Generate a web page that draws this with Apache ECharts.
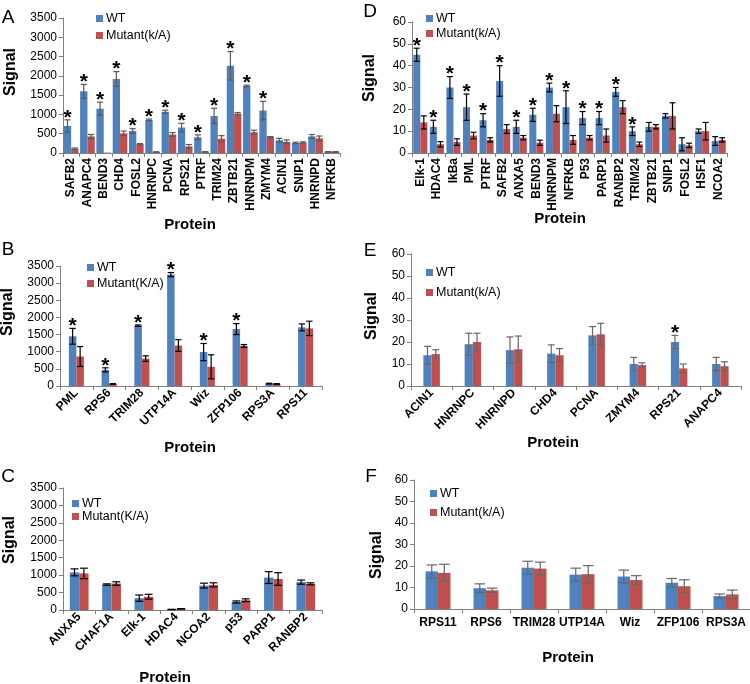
<!DOCTYPE html>
<html>
<head>
<meta charset="utf-8">
<script src="https://cdn.jsdelivr.net/npm/echarts@6/dist/echarts.min.js"></script>
<style>
  html, body { margin: 0; padding: 0; background: #fff; }
  #main { width: 750px; height: 684px; }
</style>
</head>
<body>
<div id="main"></div>
<script>
// ---- panel A ----
var catsA = ["SAFB2", "ANAPC4", "BEND3", "CHD4", "FOSL2", "HNRNPC", "PCNA", "RPS21", "PTRF", "TRIM24", "ZBTB21", "HNRNPM", "ZMYM4", "ACIN1", "SNIP1", "HNRNPD", "NFRKB"];
var wtA = [700, 1600, 1150, 1920, 570, 860, 1070, 660, 410, 960, 2260, 1740, 1100, 330, 260, 430, 30];
var wtErrA = [160, 180, 170, 190, 60, 20, 40, 110, 60, 200, 370, 20, 240, 50, 20, 50, 5];
var mutA = [110, 430, 10, 510, 230, 25, 480, 170, 30, 370, 1020, 540, 410, 290, 270, 380, 30];
var mutErrA = [20, 50, 0, 60, 15, 5, 50, 50, 5, 80, 30, 50, 15, 50, 20, 60, 5];
var starA = [1, 1, 1, 1, 1, 1, 1, 1, 1, 1, 1, 1, 1, 0, 0, 0, 0];

// ---- panel D ----
var catsD = ["Elk-1", "HDAC4", "IkBa", "PML", "PTRF", "SAFB2", "ANXA5", "BEND3", "HNRNPM", "NFRKB", "P53", "PARP1", "RANBP2", "TRIM24", "ZBTB21", "SNIP1", "FOSL2", "HSF1", "NCOA2"];
var wtD = [45, 12, 30, 21, 15, 33, 12, 17.5, 30, 21, 16, 16, 28, 10, 12, 17, 4, 10, 5.5];
var wtErrD = [3, 3, 5, 6, 3, 7, 3, 3, 2, 7.5, 3, 3, 2, 2, 2, 1, 3, 1, 2];
var mutD = [14, 4, 5, 8, 6, 11, 7, 4.7, 18, 6, 7, 8, 21, 4, 12, 17, 3.5, 10, 6];
var mutErrD = [3, 1.2, 1.5, 1.5, 1, 2, 1, 1.2, 3.7, 2, 1, 3, 3, 1, 1, 6, 1, 4, 1];
var starD = [1, 1, 1, 1, 1, 1, 1, 1, 1, 1, 1, 1, 1, 1, 0, 0, 0, 0, 0];

// ---- panel B ----
var catsB = ["PML", "RPS6", "TRIM28", "UTP14A", "Wiz", "ZFP106", "RPS3A", "RPS11"];
var wtB = [1450, 470, 1760, 3250, 990, 1660, 70, 1710];
var wtErrB = [230, 60, 20, 60, 250, 160, 10, 100];
var mutB = [860, 60, 800, 1180, 560, 1170, 60, 1680];
var mutErrB = [290, 10, 80, 170, 350, 40, 10, 210];
var starB = [1, 1, 1, 1, 1, 1, 0, 0];

// ---- panel E ----
var catsE = ["ACIN1", "HNRNPC", "HNRNPD", "CHD4", "PCNA", "ZMYM4", "RPS21", "ANAPC4"];
var wtE = [14, 19, 16.3, 14.7, 23, 10, 20, 10];
var wtErrE = [4, 5, 6, 4, 4, 3, 3, 3];
var mutE = [14.5, 20, 16.7, 14, 23.5, 9.5, 8, 9];
var mutErrE = [2, 4, 6, 3, 5, 1, 2, 2];
var starE = [0, 0, 0, 0, 0, 0, 1, 0];

// ---- panel C ----
var catsC = ["ANXA5", "CHAF1A", "Elk-1", "HDAC4", "NCOA2", "p53", "PARP1", "RANBP2"];
var wtC = [1080, 730, 340, 15, 700, 230, 930, 800];
var wtErrC = [100, 20, 90, 5, 70, 30, 170, 60];
var mutC = [1050, 760, 380, 35, 720, 280, 890, 750];
var mutErrC = [150, 50, 70, 5, 60, 40, 180, 30];
var starC = [0, 0, 0, 0, 0, 0, 0, 0];

// ---- panel F ----
var catsF = ["RPS11", "RPS6", "TRIM28", "UTP14A", "Wiz", "ZFP106", "RPS3A"];
var wtF = [17.5, 9.7, 19.2, 16, 15.1, 12.2, 6];
var wtErrF = [3, 2, 3, 3, 3, 2, 1];
var mutF = [16.8, 8.7, 18.8, 16.2, 13.5, 10.6, 6.8];
var mutErrF = [4, 1, 3, 4, 2, 3, 2];
var starF = [0, 0, 0, 0, 0, 0, 0];

var BLUE = "#4f81bd";
var RED = "#c0504d";
var FONT = "Liberation Sans, Arial, sans-serif";

var panels = [
  { letter: "A", cats: catsA, wt: wtA, wtErr: wtErrA, mut: mutA, mutErr: mutErrA, star: starA,
    grid: { left: 63, top: 18, width: 277, height: 135 }, max: 3500, interval: 500,
    gap: 0.10, rotate: 90, errColor: "#595959", mutName: "Mutant(k/A)",
    legend: { left: 96, top: 12, itemGap: 4 },
    letterPos: [8, 18], signalPos: [11, 72], proteinPos: [190, 225] },
  { letter: "D", cats: catsD, wt: wtD, wtErr: wtErrD, mut: mutD, mutErr: mutErrD, star: starD,
    grid: { left: 412, top: 22, width: 315, height: 131 }, max: 60, interval: 10,
    gap: 0.15, rotate: 90, errColor: "#000", mutName: "Mutant(k/A)",
    legend: { left: 426, top: 12, itemGap: 2 },
    letterPos: [370, 12], signalPos: [370, 78], proteinPos: [560, 219] },
  { letter: "B", cats: catsB, wt: wtB, wtErr: wtErrB, mut: mutB, mutErr: mutErrB, star: starB,
    grid: { left: 60, top: 266, width: 262, height: 120 }, max: 3500, interval: 500,
    gap: 0.54, rotate: 45, errColor: "#000", mutName: "Mutant(K/A)",
    legend: { left: 87, top: 261, itemGap: 3 },
    letterPos: [8, 250], signalPos: [8, 312], proteinPos: [190, 448] },
  { letter: "E", cats: catsE, wt: wtE, wtErr: wtErrE, mut: mutE, mutErr: mutErrE, star: starE,
    grid: { left: 411, top: 254, width: 330, height: 132 }, max: 60, interval: 10,
    gap: 0.60, rotate: 45, errColor: "#666", mutName: "Mutant(k/A)",
    legend: { left: 426, top: 266, itemGap: 7 },
    letterPos: [370, 251], signalPos: [372, 316], proteinPos: [553, 443] },
  { letter: "C", cats: catsC, wt: wtC, wtErr: wtErrC, mut: mutC, mutErr: mutErrC, star: starC,
    grid: { left: 63, top: 488, width: 259, height: 122 }, max: 3500, interval: 500,
    gap: 0.42, rotate: 45, errColor: "#000", mutName: "Mutant(K/A)",
    legend: { left: 72, top: 497, itemGap: 0 },
    letterPos: [8, 477], signalPos: [10, 540], proteinPos: [165, 678] },
  { letter: "F", cats: catsF, wt: wtF, wtErr: wtErrF, mut: mutF, mutErr: mutErrF, star: starF,
    grid: { left: 414, top: 480, width: 336, height: 129 }, max: 60, interval: 10,
    gap: 0.48, rotate: 0, errColor: "#666", mutName: "Mutant(k/A)",
    legend: { left: 430, top: 487, itemGap: 6 },
    letterPos: [371, 477], signalPos: [377, 555], proteinPos: [568, 658] }
];

// error bars (and asterisks) drawn next to the bars through the axis scales
function errorBars(side, gap, color) {
  return function (params, api) {
    var i = api.value(0), v = api.value(1), e = api.value(2), s = api.value(3);
    var band = api.size([1, 0])[0];
    var bw = band * (1 - gap) / 2;
    var c = api.coord([i, v]);
    var x = c[0] + side * bw / 2;
    var top = api.coord([i, v + e])[1];
    var bot = api.coord([i, Math.max(v - e, 0)])[1];
    var cap = bw * 0.42;
    var st = { stroke: color, lineWidth: 1.2 };
    var kids = [];
    if (e > 0) {
      kids.push({ type: "line", shape: { x1: x, y1: top, x2: x, y2: bot }, style: st });
      kids.push({ type: "line", shape: { x1: x - cap, y1: top, x2: x + cap, y2: top }, style: st });
      kids.push({ type: "line", shape: { x1: x - cap, y1: bot, x2: x + cap, y2: bot }, style: st });
    }
    if (s) {
      kids.push({ type: "text", style: { text: "*", x: x, y: top - 2, align: "center",
        verticalAlign: "middle", font: "bold 21px " + FONT, fill: "#000" } });
    }
    return { type: "group", children: kids };
  };
}

var grid = [], xAxis = [], yAxis = [], series = [], legend = [], graphic = [];

panels.forEach(function (p, k) {
  grid.push(p.grid);
  xAxis.push({
    type: "category", gridIndex: k, data: p.cats,
    axisLine: { lineStyle: { color: "#808080", width: 1 } },
    axisTick: { show: true, length: 4, lineStyle: { color: "#808080" } },
    axisLabel: { interval: 0, rotate: p.rotate, margin: p.rotate === 0 ? 8 : 5,
      color: "#000", fontWeight: "bold", fontSize: 12, fontFamily: FONT }
  });
  yAxis.push({
    type: "value", gridIndex: k, min: 0, max: p.max, interval: p.interval,
    splitLine: { show: false },
    axisLine: { show: true, lineStyle: { color: "#808080", width: 1 } },
    axisTick: { show: true, length: 4, lineStyle: { color: "#808080" } },
    axisLabel: { margin: 6, color: "#000", fontSize: 12, fontFamily: FONT,
      formatter: function (v) { return String(v); } }
  });
  series.push({
    name: "WT", type: "bar", xAxisIndex: k, yAxisIndex: k, data: p.wt,
    itemStyle: { color: BLUE }, barGap: "0%", barCategoryGap: (p.gap * 100) + "%"
  });
  series.push({
    name: p.mutName, type: "bar", xAxisIndex: k, yAxisIndex: k, data: p.mut,
    itemStyle: { color: RED }, barGap: "0%", barCategoryGap: (p.gap * 100) + "%"
  });
  series.push({
    name: "errWT" + k, type: "custom", xAxisIndex: k, yAxisIndex: k, z: 5,
    renderItem: errorBars(-1, p.gap, p.errColor),
    data: p.wt.map(function (v, i) { return [i, v, p.wtErr[i], p.star[i]]; })
  });
  series.push({
    name: "errMut" + k, type: "custom", xAxisIndex: k, yAxisIndex: k, z: 5,
    renderItem: errorBars(1, p.gap, p.errColor),
    data: p.mut.map(function (v, i) { return [i, v, p.mutErr[i], 0]; })
  });
  legend.push({
    data: ["WT", p.mutName], orient: "vertical", left: p.legend.left, top: p.legend.top,
    itemGap: p.legend.itemGap, itemWidth: 7, itemHeight: 7, icon: "rect", padding: 0,
    itemStyle: { borderWidth: 0 },
    textStyle: { fontSize: 12.5, color: "#000", fontFamily: FONT, padding: [0, 0, 0, -2] }
  });
  graphic.push({ type: "text", x: p.letterPos[0], y: p.letterPos[1],
    style: { text: p.letter, font: "19px " + FONT, fill: "#000", align: "center", verticalAlign: "middle" } });
  graphic.push({ type: "text", x: p.signalPos[0], y: p.signalPos[1], rotation: Math.PI / 2,
    style: { text: "Signal", font: "bold 16px " + FONT, fill: "#000", align: "center", verticalAlign: "middle" } });
  graphic.push({ type: "text", x: p.proteinPos[0], y: p.proteinPos[1],
    style: { text: "Protein", font: "bold 15px " + FONT, fill: "#000", align: "center", verticalAlign: "middle" } });
});

var myChart = echarts.init(document.getElementById("main"));
myChart.setOption({
  animation: false,
  backgroundColor: "#fff",
  grid: grid, xAxis: xAxis, yAxis: yAxis, series: series, legend: legend, graphic: graphic
});
</script>
</body>
</html>
